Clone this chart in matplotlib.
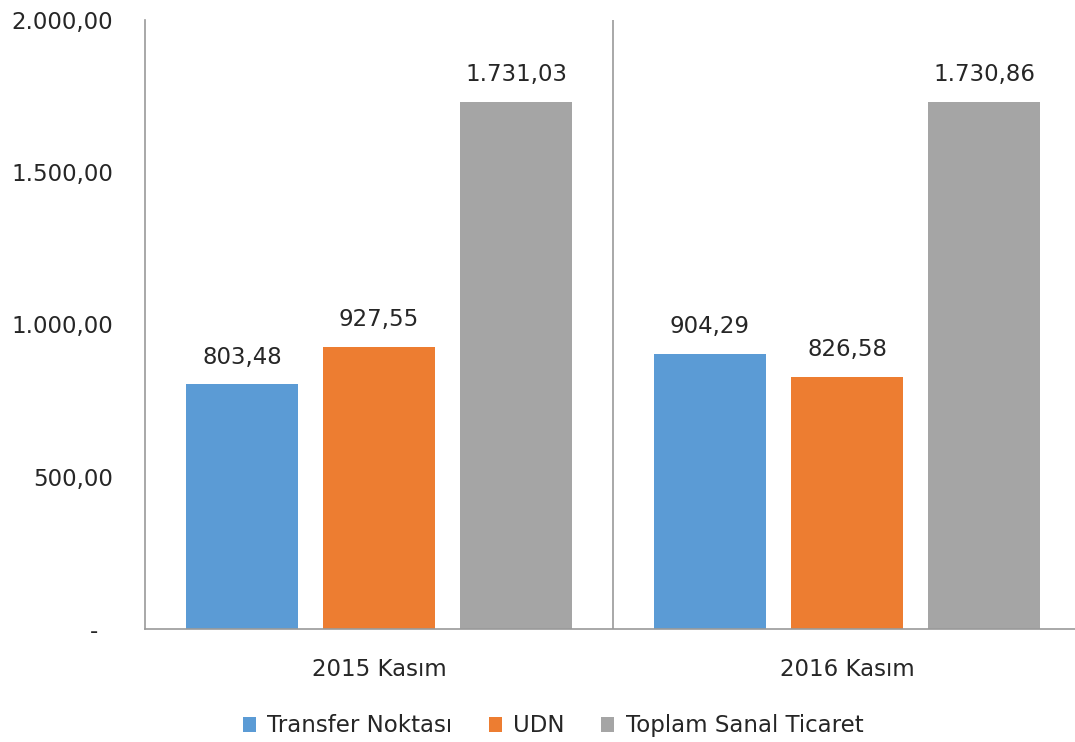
import numpy as np
import matplotlib
matplotlib.use("Agg")
import matplotlib.pyplot as plt

categories = ["2015 Kasım", "2016 Kasım"]
series_names = ["Transfer Noktası", "UDN", "Toplam Sanal Ticaret"]
transfer = [803.48, 904.29]
udn = [927.55, 826.58]
toplam = [1731.03, 1730.86]
yticks = [0, 500, 1000, 1500, 2000]
ytick_labels = ["-  ", "500,00", "1.000,00", "1.500,00", "2.000,00"]

colors = ["#5B9BD5", "#ED7D31", "#A5A5A5"]

def fmt(v):
    s = f"{v:,.2f}"
    return s.replace(",", "X").replace(".", ",").replace("X", ".")

plt.rcParams['font.family'] = ['DejaVu Sans']

fig = plt.figure(figsize=(10.75, 7.42), dpi=100)
ax = fig.add_axes([145/1075, 1 - 629/742, (1075-145)/1075, (629-20)/742])

x = np.arange(len(categories))
w = 0.239
off = 0.293
for i, (vals, name) in enumerate(zip([transfer, udn, toplam], series_names)):
    xs = x + (i - 1) * off
    ax.bar(xs, vals, w, color=colors[i], label=name)
    for xx, v in zip(xs, vals):
        ax.text(xx, v + 52, fmt(v), ha="center", va="bottom", fontsize=16.5, color="#262626")

ax.set_xlim(-0.5, 1.487)
ax.set_ylim(0, 2000)
ax.set_yticks(yticks)
ax.set_yticklabels(ytick_labels)
ax.set_xticks(x)
ax.set_xticklabels(categories)
ax.tick_params(axis="y", length=0, pad=23, labelsize=16.5, labelcolor="#262626")
ax.tick_params(axis="x", length=0, pad=21, labelsize=16.5, labelcolor="#262626")
for s in ["top", "right"]:
    ax.spines[s].set_visible(False)
for s in ["left", "bottom"]:
    ax.spines[s].set_color("#9a9a9a")
    ax.spines[s].set_linewidth(1.2)
ax.axvline(0.5, color="#9a9a9a", lw=1.2)

ax.legend(loc="center", bbox_to_anchor=(0.439, -0.159), ncol=3, frameon=False,
          fontsize=16.5, handlelength=0.55, handleheight=0.65, handletextpad=0.5, columnspacing=1.6,
          labelcolor="#262626")

fig.savefig("out.png", dpi=100)
